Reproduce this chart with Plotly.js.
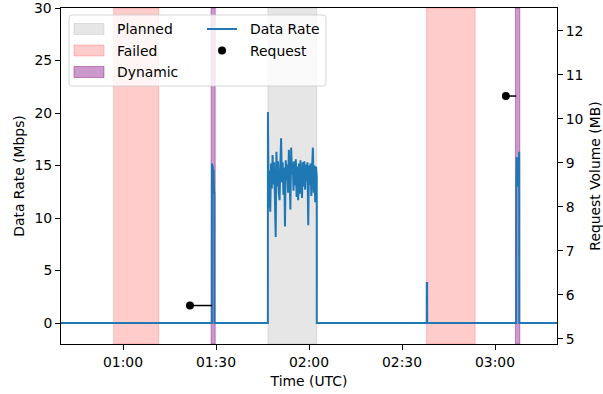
<!DOCTYPE html>
<html>
<head>
<meta charset="utf-8">
<script src="https://cdn.plot.ly/plotly-3.0.1.min.js"></script>
<style>html,body{margin:0;padding:0;background:#fff;}#chart{width:603px;height:394px;}</style>
</head>
<body>
<div id="chart"></div>
<script>
// ---- data ----
var DAY = '2024-01-01 ';
var rateTime = [
  "00:40:00",
  "01:28:40","01:28:42","01:28:50","01:28:58","01:29:06","01:29:14","01:29:22","01:29:28","01:29:30",
  "01:46:44",
  "01:46:45","01:47:00","01:47:15","01:47:30","01:47:45",
  "01:48:00","01:48:15","01:48:30","01:48:45",
  "01:49:00","01:49:15","01:49:30","01:49:45",
  "01:50:00","01:50:15","01:50:30","01:50:45",
  "01:51:00","01:51:15","01:51:30","01:51:45",
  "01:52:00","01:52:15","01:52:30","01:52:45",
  "01:53:00","01:53:15","01:53:30","01:53:45",
  "01:54:00","01:54:15","01:54:30","01:54:45",
  "01:55:00","01:55:15","01:55:30","01:55:45",
  "01:56:00","01:56:15","01:56:30","01:56:45",
  "01:57:00","01:57:15","01:57:30","01:57:45",
  "01:58:00","01:58:15","01:58:30","01:58:45",
  "01:59:00","01:59:15","01:59:30","01:59:45",
  "02:00:00","02:00:15","02:00:30","02:00:45",
  "02:01:00","02:01:15","02:01:30","02:01:45",
  "02:02:00","02:02:15","02:02:30",
  "02:02:31",
  "02:37:58","02:38:00","02:38:06","02:38:08",
  "03:06:50","03:06:52","03:07:00","03:07:08","03:07:16","03:07:24","03:07:32","03:07:40","03:07:48","03:07:50",
  "03:20:00"
];
var rateMbps = [
  0,
  0, 15.2, 12.5, 15.0, 12.8, 14.6, 12.4, 12.4, 0,
  0,
  20.1, 11.0, 14.5, 10.6, 15.2,
  12.8, 16.0, 13.2, 15.3,
  11.8, 8.2, 16.3, 13.0,
  15.4, 12.5, 11.7, 15.0,
  17.6, 13.4, 15.3, 12.2,
  14.8, 9.2, 15.5, 13.6,
  15.1, 12.4, 16.5, 13.8,
  10.8, 16.7, 14.2, 15.3,
  12.6, 15.4, 13.1, 15.6,
  12.0, 14.9, 11.7, 15.2,
  12.3, 15.5, 13.4, 11.9,
  15.3, 13.0, 15.4, 12.7,
  15.1, 13.5, 15.3, 9.3,
  15.0, 13.2, 15.2, 12.1,
  14.8, 16.7, 12.4, 15.0,
  11.5, 14.9, 14.0,
  0,
  0, 3.8, 3.8, 0,
  0, 13.0, 15.8, 13.2, 15.6, 13.0, 15.7, 14.2, 16.3, 0,
  0
];
var rateTicks = [0, 5, 10, 15, 20, 25, 30];
var volumeTicks = [5, 6, 7, 8, 9, 10, 11, 12];
var windowType  = ["Failed", "Dynamic", "Planned", "Failed", "Dynamic"];
var windowStart = ["00:57:00", "01:28:25", "01:46:45", "02:37:55", "03:06:35"];
var windowEnd   = ["01:11:30", "01:29:45", "02:02:30", "02:53:35", "03:08:00"];
var reqTime   = ["01:21:36", "03:03:30"];
var reqServed = ["01:28:42", "03:06:50"];
var reqVolume = [5.76, 10.52];
var legendLabels = ["Planned", "Failed", "Dynamic", "Data Rate", "Request"];

// ---- styles ----
var FONT = 'DejaVu Sans, sans-serif';
var FS = 13.9;
var windowStyle = {
  Planned: {fill: 'rgba(128,128,128,0.2)', line: 'rgba(128,128,128,0.2)'},
  Failed:  {fill: 'rgba(255,0,0,0.2)',     line: 'rgba(255,0,0,0.2)'},
  Dynamic: {fill: 'rgba(128,0,128,0.4)',   line: 'rgba(128,0,128,0.4)'}
};
var BLUE = '#1f77b4';
var W = 603, H = 394, ML = 61, MR = 46, MT = 8, MB = 50;
var PW = W - ML - MR, PH = H - MT - MB;
function px(x) { return (x - ML) / PW; }
function py(y) { return (H - MB - y) / PH; }

var shapes = [];
for (var i = 0; i < windowType.length; i++) {
  var st = windowStyle[windowType[i]];
  shapes.push({type: 'rect', xref: 'x', yref: 'paper', x0: DAY + windowStart[i], x1: DAY + windowEnd[i],
    y0: 0, y1: 1, fillcolor: st.fill, line: {color: st.line, width: 1}, layer: 'below'});
}

// legend (drawn manually to mimic two-column layout)
var bx0 = px(69), bx1 = px(326), by0 = py(86), by1 = py(15);
var rx = 3 / PW, ry = 3 / PH;
var path = 'M ' + (bx0 + rx) + ',' + by1 +
  ' L ' + (bx1 - rx) + ',' + by1 + ' Q ' + bx1 + ',' + by1 + ' ' + bx1 + ',' + (by1 - ry) +
  ' L ' + bx1 + ',' + (by0 + ry) + ' Q ' + bx1 + ',' + by0 + ' ' + (bx1 - rx) + ',' + by0 +
  ' L ' + (bx0 + rx) + ',' + by0 + ' Q ' + bx0 + ',' + by0 + ' ' + bx0 + ',' + (by0 + ry) +
  ' L ' + bx0 + ',' + (by1 - ry) + ' Q ' + bx0 + ',' + by1 + ' ' + (bx0 + rx) + ',' + by1 + ' Z';
shapes.push({type: 'path', xref: 'paper', yref: 'paper', path: path,
  fillcolor: 'rgba(255,255,255,0.8)', line: {color: 'rgba(204,204,204,0.8)', width: 1}, layer: 'above'});

var annotations = [];
var rowY = [29, 50.5, 72];
var patchKinds = ["Planned", "Failed", "Dynamic"];
for (var k = 0; k < 3; k++) {
  var s2 = windowStyle[patchKinds[k]];
  shapes.push({type: 'rect', xref: 'paper', yref: 'paper', x0: px(74), x1: px(104),
    y0: py(rowY[k] + 5.5), y1: py(rowY[k] - 5.5), fillcolor: s2.fill, line: {color: s2.line, width: 1}, layer: 'above'});
  annotations.push({xref: 'paper', yref: 'paper', x: px(115), y: py(rowY[k]), text: legendLabels[k],
    showarrow: false, xanchor: 'left', yanchor: 'middle', font: {family: FONT, size: FS, color: '#000'}});
}
shapes.push({type: 'line', xref: 'paper', yref: 'paper', x0: px(207), x1: px(237), y0: py(rowY[0]), y1: py(rowY[0]),
  line: {color: BLUE, width: 2}, layer: 'above'});
annotations.push({xref: 'paper', yref: 'paper', x: px(248), y: py(rowY[0]), text: legendLabels[3],
  showarrow: false, xanchor: 'left', yanchor: 'middle', font: {family: FONT, size: FS, color: '#000'}});
shapes.push({type: 'circle', xref: 'paper', yref: 'paper', x0: px(218), x1: px(226), y0: py(rowY[1] + 4), y1: py(rowY[1] - 4),
  fillcolor: '#000', line: {color: '#000', width: 0}, layer: 'above'});
annotations.push({xref: 'paper', yref: 'paper', x: px(248), y: py(rowY[1]), text: legendLabels[4],
  showarrow: false, xanchor: 'left', yanchor: 'middle', font: {family: FONT, size: FS, color: '#000'}});

// top-edge tick of the left axis (Plotly drops the label that sits exactly on the range edge)
var topTick = rateTicks[rateTicks.length - 1];
shapes.push({type: 'line', xref: 'paper', yref: 'y', x0: -5 / PW, x1: 0, y0: topTick, y1: topTick,
  line: {color: '#000', width: 1}, layer: 'above'});
annotations.push({xref: 'paper', yref: 'y', x: 0, y: topTick, xshift: -7, text: String(topTick),
  showarrow: false, xanchor: 'right', yanchor: 'middle', font: {family: FONT, size: FS, color: '#000'}});

// ---- traces ----
var reqLineX = [], reqLineY = [];
for (var j = 0; j < reqTime.length; j++) {
  reqLineX.push(DAY + reqTime[j], DAY + reqServed[j], null);
  reqLineY.push(reqVolume[j], reqVolume[j], null);
}
var traces = [
  {x: rateTime.map(function (s) { return DAY + s; }), y: rateMbps, type: 'scatter', mode: 'lines',
   line: {color: BLUE, width: 2, simplify: false}, name: 'Data Rate', showlegend: false, yaxis: 'y'},
  {x: reqLineX, y: reqLineY, type: 'scatter', mode: 'lines', line: {color: '#000', width: 1.5},
   showlegend: false, yaxis: 'y2', connectgaps: false},
  {x: reqTime.map(function (s) { return DAY + s; }), y: reqVolume, type: 'scatter', mode: 'markers',
   marker: {color: '#000', size: 8}, name: 'Request', showlegend: false, yaxis: 'y2'}
];

var axisCommon = {
  showgrid: false, zeroline: false, ticks: 'outside', ticklen: 5, tickwidth: 1, tickcolor: '#000',
  showline: true, linecolor: '#000', linewidth: 1,
  tickfont: {family: FONT, size: FS, color: '#000'}
};
var layout = {
  width: W, height: H,
  margin: {l: ML, r: MR, t: MT, b: MB, pad: 0},
  paper_bgcolor: '#fff', plot_bgcolor: '#fff',
  showlegend: false,
  xaxis: Object.assign({}, axisCommon, {
    type: 'date', range: [DAY + '00:40:00', DAY + '03:20:00'],
    tickformat: '%H:%M', dtick: 1800000, tick0: DAY + '01:00:00', mirror: true,
    title: {text: 'Time (UTC)', font: {family: FONT, size: FS, color: '#000'}, standoff: 7}
  }),
  yaxis: Object.assign({}, axisCommon, {
    range: [-2, 30], tickmode: 'array', tickvals: rateTicks, ticktext: rateTicks.map(String),
    title: {text: 'Data Rate (Mbps)', font: {family: FONT, size: FS, color: '#000'}, standoff: 6}
  }),
  yaxis2: Object.assign({}, axisCommon, {
    overlaying: 'y', side: 'right', range: [4.886, 12.52], tickmode: 'array', tickvals: volumeTicks,
    ticktext: volumeTicks.map(String),
    title: {text: 'Request Volume (MB)', font: {family: FONT, size: FS, color: '#000'}, standoff: 8}
  }),
  shapes: shapes,
  annotations: annotations
};
Plotly.newPlot('chart', traces, layout, {staticPlot: true, displayModeBar: false});
</script>
</body>
</html>
